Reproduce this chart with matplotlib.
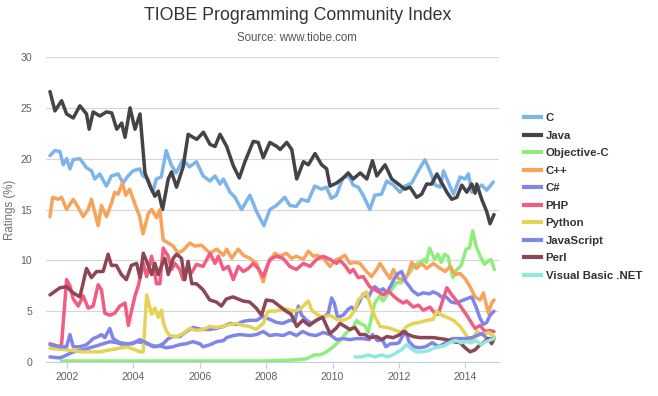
import matplotlib
matplotlib.use("Agg")
import matplotlib.pyplot as plt
from matplotlib.lines import Line2D
from matplotlib.font_manager import FontProperties

# --- data (decimal year, rating %) ---
c_years = [2001.49, 2001.64, 2001.79, 2001.89, 2001.99, 2002.09, 2002.19, 2002.39, 2002.59, 2002.74,
           2002.84, 2002.99, 2003.19, 2003.34, 2003.54, 2003.69, 2003.84, 2003.99, 2004.19, 2004.29,
           2004.44, 2004.59, 2004.69, 2004.84, 2004.99, 2005.14, 2005.29, 2005.49, 2005.69, 2005.90,
           2006.10, 2006.31, 2006.46, 2006.61, 2006.71, 2006.91, 2007.06, 2007.26, 2007.51, 2007.71,
           2007.93, 2008.11, 2008.31, 2008.56, 2008.71, 2008.91, 2009.06, 2009.26, 2009.46, 2009.66,
           2009.81, 2009.96, 2010.11, 2010.31, 2010.49, 2010.62, 2010.77, 2010.92, 2011.12, 2011.27,
           2011.47, 2011.63, 2011.83, 2012.03, 2012.18, 2012.38, 2012.58, 2012.78, 2012.93, 2013.09,
           2013.24, 2013.34, 2013.44, 2013.64, 2013.84, 2013.99, 2014.09, 2014.19, 2014.34, 2014.49,
           2014.64, 2014.84]
c_vals = [20.3, 20.8, 20.7, 19.4, 20.0, 19.0, 19.9, 20.0, 19.1, 18.8,
          18.0, 18.5, 17.3, 18.3, 18.5, 17.6, 18.3, 18.8, 19.0, 18.3,
          18.0, 16.7, 18.0, 18.2, 20.8, 19.4, 18.6, 19.9, 19.2, 19.7,
          18.3, 17.8, 18.3, 17.5, 18.0, 16.7, 16.2, 15.0, 16.4, 14.8,
          13.4, 15.0, 15.4, 16.2, 15.4, 15.3, 16.0, 15.8, 17.3, 17.0,
          17.2, 16.1, 16.4, 18.1, 18.3, 17.4, 17.2, 16.4, 15.0, 16.4,
          16.5, 17.8, 17.4, 16.7, 17.3, 17.6, 18.8, 19.9, 18.8, 17.4,
          17.2, 18.8, 18.0, 16.5, 18.2, 18.0, 18.5, 16.7, 17.0, 17.4,
          16.9, 17.7]

java_years = [2001.49, 2001.64, 2001.84, 2001.99, 2002.19, 2002.39, 2002.59, 2002.67, 2002.79, 2002.99,
              2003.19, 2003.35, 2003.50, 2003.65, 2003.75, 2003.90, 2004.05, 2004.20, 2004.35, 2004.50,
              2004.65, 2004.75, 2004.88, 2005.05, 2005.15, 2005.30, 2005.50, 2005.65, 2005.80, 2005.91,
              2006.11, 2006.31, 2006.46, 2006.61, 2006.81, 2007.01, 2007.19, 2007.36, 2007.61, 2007.76,
              2007.91, 2008.11, 2008.32, 2008.42, 2008.62, 2008.77, 2008.92, 2009.12, 2009.27, 2009.47,
              2009.67, 2009.82, 2009.92, 2010.12, 2010.32, 2010.47, 2010.62, 2010.83, 2011.03, 2011.20,
              2011.33, 2011.58, 2011.78, 2011.98, 2012.18, 2012.33, 2012.53, 2012.68, 2012.83, 2012.98,
              2013.14, 2013.29, 2013.44, 2013.59, 2013.74, 2013.89, 2014.04, 2014.19, 2014.29, 2014.34,
              2014.49, 2014.64, 2014.74, 2014.86]
java_vals = [26.6, 24.7, 25.7, 24.4, 24.0, 25.2, 24.4, 22.9, 24.6, 24.2,
             24.6, 24.5, 22.9, 23.5, 22.1, 25.0, 22.9, 24.4, 18.6, 17.3,
             16.3, 16.8, 15.0, 18.0, 18.7, 17.2, 19.2, 22.4, 22.1, 21.9,
             22.6, 21.4, 21.2, 22.4, 21.2, 19.3, 18.1, 19.7, 21.7, 21.6,
             20.1, 21.6, 21.2, 20.9, 21.6, 20.9, 18.0, 19.7, 19.4, 20.5,
             19.4, 19.0, 17.3, 17.6, 18.1, 18.6, 18.0, 18.6, 18.0, 19.8,
             18.3, 19.4, 18.0, 17.5, 17.0, 17.2, 16.2, 16.5, 17.5, 17.5,
             18.5, 17.6, 16.7, 16.0, 16.2, 17.4, 16.7, 17.5, 16.6, 17.5,
             16.0, 14.8, 13.6, 14.5]

objc_years = [2001.84, 2003.0, 2004.0, 2005.0, 2006.0, 2007.0, 2008.0, 2008.8, 2009.2, 2009.45,
              2009.62, 2009.82, 2010.02, 2010.22, 2010.42, 2010.62, 2010.72, 2010.82, 2010.97, 2011.07,
              2011.17, 2011.27, 2011.42, 2011.52, 2011.62, 2011.77, 2011.92, 2012.07, 2012.17, 2012.32,
              2012.47, 2012.62, 2012.77, 2012.82, 2012.92, 2013.07, 2013.17, 2013.27, 2013.37, 2013.47,
              2013.62, 2013.72, 2013.87, 2014.02, 2014.12, 2014.22, 2014.32, 2014.42, 2014.57, 2014.67,
              2014.77, 2014.87]
objc_vals = [0.1, 0.1, 0.1, 0.1, 0.1, 0.1, 0.1, 0.2, 0.3, 0.7,
             0.7, 1.0, 1.5, 2.1, 2.9, 3.4, 4.1, 3.8, 3.6, 2.9,
             4.4, 5.8, 6.5, 6.0, 6.5, 7.1, 7.8, 7.8, 8.3, 8.8,
             9.5, 9.8, 10.1, 9.8, 11.2, 10.1, 10.6, 9.8, 10.6, 10.4,
             8.3, 9.0, 9.5, 11.1, 11.2, 12.9, 11.4, 10.6, 9.6, 9.9,
             10.1, 9.1]

cpp_years = [2001.49, 2001.57, 2001.74, 2001.84, 2001.99, 2002.19, 2002.34, 2002.49, 2002.64, 2002.74,
             2002.84, 2002.94, 2003.04, 2003.19, 2003.34, 2003.44, 2003.54, 2003.67, 2003.77, 2003.89,
             2004.04, 2004.19, 2004.29, 2004.45, 2004.55, 2004.70, 2004.80, 2004.90, 2005.05, 2005.20,
             2005.35, 2005.50, 2005.70, 2005.85, 2006.05, 2006.31, 2006.51, 2006.71, 2006.81, 2006.96,
             2007.16, 2007.31, 2007.51, 2007.71, 2007.91, 2008.06, 2008.26, 2008.41, 2008.61, 2008.76,
             2008.91, 2009.12, 2009.27, 2009.42, 2009.52, 2009.72, 2009.92, 2010.12, 2010.22, 2010.37,
             2010.52, 2010.67, 2010.82, 2011.02, 2011.17, 2011.33, 2011.43, 2011.58, 2011.73, 2011.83,
             2011.98, 2012.18, 2012.28, 2012.38, 2012.53, 2012.68, 2012.83, 2013.03, 2013.24, 2013.39,
             2013.54, 2013.69, 2013.84, 2013.99, 2014.14, 2014.29, 2014.44, 2014.54, 2014.69, 2014.79,
             2014.86]
cpp_vals = [14.3, 16.2, 16.0, 16.2, 15.0, 16.0, 15.2, 14.3, 15.0, 16.0,
            14.7, 13.4, 15.4, 14.3, 15.6, 16.7, 16.5, 17.6, 16.4, 17.0,
            15.6, 14.3, 12.6, 14.6, 15.0, 14.2, 15.0, 12.0, 11.7, 11.4,
            10.7, 11.0, 11.7, 11.4, 11.5, 10.7, 11.1, 10.5, 11.1, 10.2,
            11.1, 10.5, 10.2, 9.7, 7.9, 9.7, 10.7, 10.4, 10.7, 10.2,
            10.4, 10.1, 10.9, 10.4, 10.5, 10.2, 9.4, 10.1, 10.2, 10.5,
            9.7, 9.8, 9.7, 8.9, 8.4, 9.1, 9.7, 8.9, 8.2, 9.1,
            8.2, 8.1, 8.7, 9.8, 9.2, 9.7, 9.2, 9.7, 9.2, 8.9,
            9.4, 8.6, 8.7, 8.2, 7.4, 6.4, 6.1, 6.8, 4.8, 5.8,
            6.1]

cs_years = [2001.49, 2001.79, 2001.94, 2002.09, 2002.29, 2002.49, 2002.69, 2002.90, 2003.10, 2003.30,
            2003.50, 2003.70, 2003.90, 2004.10, 2004.30, 2004.50, 2004.70, 2004.90, 2005.05, 2005.20,
            2005.40, 2005.60, 2005.80, 2006.05, 2006.31, 2006.50, 2006.71, 2006.91, 2007.10, 2007.31,
            2007.50, 2007.71, 2007.91, 2008.10, 2008.31, 2008.50, 2008.71, 2008.86, 2008.97, 2009.07,
            2009.22, 2009.37, 2009.52, 2009.62, 2009.77, 2009.87, 2009.97, 2010.05, 2010.15, 2010.32,
            2010.47, 2010.57, 2010.67, 2010.82, 2010.92, 2011.07, 2011.17, 2011.27, 2011.42, 2011.52,
            2011.62, 2011.77, 2011.87, 2011.97, 2012.08, 2012.18, 2012.32, 2012.41, 2012.57, 2012.73,
            2012.92, 2013.02, 2013.17, 2013.27, 2013.42, 2013.57, 2013.72, 2013.87, 2014.02, 2014.19,
            2014.32, 2014.44, 2014.54, 2014.64, 2014.74, 2014.86]
cs_vals = [0.5, 0.4, 0.6, 0.85, 1.1, 1.2, 1.4, 1.6, 1.8, 2.0,
           1.9, 1.7, 1.8, 2.0, 1.9, 1.7, 1.5, 1.8, 2.3, 2.5,
           2.5, 3.0, 3.4, 3.2, 3.2, 3.3, 3.5, 3.8, 3.7, 4.0,
           4.1, 4.1, 4.5, 4.2, 3.9, 3.8, 4.1, 4.0, 5.5, 4.6,
           4.1, 3.8, 4.1, 4.3, 4.5, 4.8, 6.3, 5.8, 4.4, 4.6,
           5.2, 5.4, 5.1, 6.0, 6.7, 6.3, 7.0, 7.4, 7.0, 7.2,
           6.8, 7.6, 8.3, 8.7, 8.9, 8.0, 7.4, 7.0, 6.6, 6.8,
           6.7, 6.9, 6.7, 6.4, 6.4, 5.9, 5.8, 6.0, 6.2, 6.4,
           5.4, 4.3, 3.7, 3.9, 4.6, 5.0]

php_years = [2001.49, 2001.79, 2001.84, 2001.99, 2002.09, 2002.19, 2002.34, 2002.49, 2002.64, 2002.79,
             2002.94, 2003.04, 2003.14, 2003.29, 2003.44, 2003.59, 2003.75, 2003.85, 2003.95, 2004.05,
             2004.15, 2004.30, 2004.40, 2004.55, 2004.70, 2004.80, 2004.90, 2005.05, 2005.15, 2005.25,
             2005.40, 2005.50, 2005.60, 2005.76, 2005.90, 2006.10, 2006.31, 2006.46, 2006.56, 2006.71,
             2006.86, 2007.01, 2007.16, 2007.31, 2007.46, 2007.61, 2007.76, 2007.91, 2008.11, 2008.31,
             2008.51, 2008.71, 2008.91, 2009.12, 2009.32, 2009.52, 2009.72, 2009.92, 2010.12, 2010.22,
             2010.37, 2010.52, 2010.62, 2010.77, 2010.92, 2011.12, 2011.33, 2011.53, 2011.68, 2011.83,
             2011.98, 2012.13, 2012.23, 2012.43, 2012.58, 2012.73, 2012.93, 2013.08, 2013.18, 2013.44,
             2013.59, 2013.74, 2013.89, 2014.04, 2014.19, 2014.29, 2014.44, 2014.59, 2014.74, 2014.86]
php_vals = [1.8, 1.5, 1.8, 8.1, 7.5, 6.2, 5.5, 6.5, 5.3, 5.5,
            7.6, 7.1, 4.8, 4.6, 4.8, 5.5, 5.8, 3.6, 5.1, 6.5,
            7.5, 9.7, 8.4, 10.4, 7.7, 7.7, 11.2, 10.4, 9.1, 9.7,
            9.1, 8.1, 9.1, 8.8, 9.6, 9.4, 10.7, 9.7, 10.4, 9.1,
            9.4, 8.1, 9.4, 8.9, 9.2, 9.7, 9.2, 8.4, 10.1, 10.4,
            10.2, 9.4, 9.1, 9.7, 9.4, 10.1, 10.4, 10.1, 9.7, 10.0,
            9.5, 8.8, 9.1, 8.3, 8.4, 7.4, 7.0, 6.6, 7.0, 6.5,
            6.1, 5.8, 6.0, 5.4, 5.6, 5.1, 5.4, 4.8, 4.7, 7.3,
            6.6, 6.0, 5.3, 4.6, 3.8, 3.3, 3.6, 3.0, 3.1, 3.0]

py_years = [2001.49, 2001.99, 2002.49, 2002.99, 2003.49, 2003.79, 2004.05, 2004.20, 2004.30, 2004.40,
            2004.55, 2004.65, 2004.75, 2004.85, 2004.90, 2005.00, 2005.10, 2005.30, 2005.50, 2005.70,
            2005.90, 2006.10, 2006.30, 2006.50, 2006.70, 2006.90, 2007.10, 2007.30, 2007.50, 2007.70,
            2007.91, 2008.06, 2008.26, 2008.41, 2008.61, 2008.81, 2009.02, 2009.17, 2009.27, 2009.37,
            2009.52, 2009.72, 2009.92, 2010.12, 2010.32, 2010.52, 2010.67, 2010.77, 2010.92, 2011.02,
            2011.12, 2011.27, 2011.43, 2011.63, 2011.83, 2012.08, 2012.23, 2012.43, 2012.63, 2012.83,
            2013.03, 2013.13, 2013.29, 2013.44, 2013.64, 2013.84, 2014.05, 2014.20, 2014.35, 2014.50,
            2014.70, 2014.86]
py_vals = [1.35, 1.2, 1.0, 1.0, 1.3, 1.5, 1.2, 1.0, 1.0, 6.6,
           4.7, 5.3, 4.4, 5.1, 3.9, 3.0, 2.6, 2.5, 2.8, 3.3,
           3.1, 3.2, 3.5, 3.4, 3.5, 3.7, 3.8, 3.6, 3.5, 3.2,
           3.8, 5.0, 5.0, 5.1, 5.2, 5.0, 5.2, 5.7, 6.0, 5.1,
           4.7, 4.4, 4.6, 4.2, 4.1, 4.4, 5.1, 6.1, 6.6, 6.9,
           5.8, 4.5, 3.5, 3.4, 3.2, 2.9, 3.5, 3.8, 3.9, 4.1,
           4.2, 5.0, 4.6, 4.4, 4.1, 3.5, 2.5, 2.1, 3.0, 2.7,
           2.9, 2.5]

js_years = [2001.49, 2001.79, 2001.99, 2002.09, 2002.19, 2002.39, 2002.59, 2002.79, 2002.94, 2003.04,
            2003.14, 2003.29, 2003.39, 2003.59, 2003.79, 2003.99, 2004.19, 2004.39, 2004.59, 2004.79,
            2004.99, 2005.19, 2005.39, 2005.59, 2005.79, 2006.00, 2006.10, 2006.31, 2006.51, 2006.71,
            2006.81, 2007.01, 2007.21, 2007.51, 2007.71, 2007.91, 2008.10, 2008.31, 2008.51, 2008.71,
            2008.91, 2009.10, 2009.30, 2009.50, 2009.72, 2009.92, 2010.12, 2010.32, 2010.52, 2010.70,
            2010.90, 2011.10, 2011.20, 2011.35, 2011.50, 2011.60, 2011.75, 2011.90, 2012.00, 2012.08,
            2012.20, 2012.30, 2012.45, 2012.60, 2012.80, 2013.00, 2013.20, 2013.40, 2013.60, 2013.80,
            2014.00, 2014.20, 2014.35, 2014.50, 2014.65, 2014.86]
js_vals = [1.7, 1.5, 1.5, 2.7, 1.5, 1.5, 1.7, 2.3, 2.5, 2.7,
           2.4, 3.3, 2.3, 1.9, 1.8, 1.8, 2.2, 1.9, 1.5, 1.6,
           1.4, 1.5, 1.7, 1.8, 2.0, 1.8, 1.5, 1.7, 2.0, 2.1,
           2.4, 2.6, 2.7, 2.6, 2.7, 3.0, 2.6, 2.7, 2.6, 2.9,
           2.6, 3.0, 2.7, 2.6, 2.9, 2.7, 2.2, 2.3, 2.2, 2.3,
           2.3, 2.2, 2.7, 2.1, 2.2, 1.5, 1.8, 1.8, 1.9, 2.4,
           3.0, 2.0, 1.5, 1.4, 1.5, 1.9, 1.5, 1.9, 2.3, 2.3,
           2.3, 2.4, 2.6, 2.8, 2.3, 2.3]

perl_years = [2001.49, 2001.79, 2001.99, 2002.19, 2002.39, 2002.59, 2002.74, 2002.89, 2003.09, 2003.24,
              2003.34, 2003.49, 2003.64, 2003.79, 2003.94, 2004.10, 2004.20, 2004.30, 2004.45, 2004.55,
              2004.65, 2004.75, 2004.85, 2004.95, 2005.05, 2005.20, 2005.30, 2005.45, 2005.55, 2005.65,
              2005.76, 2005.90, 2006.10, 2006.30, 2006.50, 2006.65, 2006.80, 2007.00, 2007.15, 2007.30,
              2007.50, 2007.70, 2007.86, 2008.00, 2008.20, 2008.40, 2008.60, 2008.75, 2008.92, 2009.10,
              2009.30, 2009.50, 2009.70, 2009.92, 2010.10, 2010.22, 2010.37, 2010.52, 2010.67, 2010.82,
              2010.97, 2011.12, 2011.33, 2011.48, 2011.63, 2011.83, 2012.03, 2012.13, 2012.28, 2012.43,
              2012.63, 2012.83, 2013.03, 2013.24, 2013.44, 2013.64, 2013.84, 2013.99, 2014.14, 2014.29,
              2014.44, 2014.54, 2014.69, 2014.79, 2014.86]
perl_vals = [6.6, 7.3, 7.4, 6.8, 6.4, 9.2, 8.3, 8.9, 8.9, 10.6,
             9.5, 9.5, 8.6, 8.1, 9.5, 9.7, 8.3, 10.7, 9.5, 8.6,
             9.7, 8.6, 9.5, 10.2, 8.6, 10.2, 10.6, 10.2, 8.1, 9.9,
             7.7, 7.7, 7.1, 6.1, 5.9, 5.5, 6.2, 6.4, 6.2, 6.0,
             5.9, 5.3, 4.6, 6.1, 6.0, 5.5, 5.0, 4.7, 3.5, 4.1,
             3.6, 4.1, 4.4, 2.8, 3.3, 3.8, 3.5, 3.2, 3.4, 2.7,
             2.7, 2.4, 2.5, 2.2, 2.5, 2.4, 2.7, 3.0, 2.7, 2.5,
             2.4, 2.4, 2.4, 2.3, 2.2, 2.0, 1.9, 1.4, 1.0, 1.2,
             1.7, 1.9, 2.3, 1.8, 2.3]

vb_years = [2010.67, 2010.87, 2011.07, 2011.27, 2011.47, 2011.67, 2011.87, 2012.07, 2012.22, 2012.37,
            2012.52, 2012.67, 2012.87, 2013.07, 2013.22, 2013.37, 2013.57, 2013.72, 2013.87, 2014.02,
            2014.17, 2014.32, 2014.47, 2014.62, 2014.77, 2014.86]
vb_vals = [0.5, 0.5, 0.7, 0.5, 0.7, 0.5, 0.8, 1.2, 1.7, 1.3,
           1.0, 1.0, 1.1, 1.4, 1.5, 1.6, 2.0, 2.1, 1.9, 2.0,
           1.9, 2.1, 1.7, 2.0, 2.2, 2.3]

series = [
    ("C", c_years, c_vals, "#7cb5ec"),
    ("Java", java_years, java_vals, "#434348"),
    ("Objective-C", objc_years, objc_vals, "#90ed7d"),
    ("C++", cpp_years, cpp_vals, "#f7a35c"),
    ("C#", cs_years, cs_vals, "#8085e9"),
    ("PHP", php_years, php_vals, "#f15c80"),
    ("Python", py_years, py_vals, "#e4d354"),
    ("JavaScript", js_years, js_vals, "#8085e8"),
    ("Perl", perl_years, perl_vals, "#8d4653"),
    ("Visual Basic .NET", vb_years, vb_vals, "#91e8e1"),
]

year_ticks = [2002, 2004, 2006, 2008, 2010, 2012, 2014]
rating_ticks = [0, 5, 10, 15, 20, 25, 30]

plt.rcParams['font.family'] = ['Liberation Sans', 'DejaVu Sans']

fig = plt.figure(figsize=(6.58, 3.96), dpi=100)
ax = fig.add_axes([46 / 658, 1 - 362 / 396, (499 - 46) / 658, (362 - 57) / 396])

for name, xs, ys, col in series:
    ax.plot(xs, ys, color=col, lw=2.5, solid_joinstyle='round', solid_capstyle='round', label=name)

ax.set_xlim(2001.37, 2015.01)
ax.set_ylim(0, 30)
ax.set_xticks(year_ticks)
ax.set_yticks(rating_ticks)
ax.grid(axis='y', color='#d6d6d6', lw=0.8)
ax.set_axisbelow(True)
for side in ['top', 'right', 'left']:
    ax.spines[side].set_visible(False)
ax.spines['bottom'].set_color('#C0D0E0')
ax.spines['bottom'].set_linewidth(0.8)
ax.tick_params(axis='x', colors='#C0D0E0', length=4, width=0.8, pad=3, labelsize=7.6, labelcolor='#606060')
ax.tick_params(axis='y', length=0, pad=10, labelsize=7.6, labelcolor='#606060')
ax.set_ylabel("Ratings (%)", color='#707070', fontsize=8.3)
ax.yaxis.set_label_coords(-30 / 453, 0.5)

fig.text(0.452, 0.962, "TIOBE Programming Community Index", ha='center', va='center',
         fontsize=12.8, color='#333333')
fig.text(0.452, 0.905, "Source: www.tiobe.com", ha='center', va='center',
         fontsize=8.3, color='#555555')

handles = [Line2D([], [], color=col, lw=3) for _, _, _, col in series]
labels = [name for name, _, _, _ in series]
leg = ax.legend(handles, labels, loc='upper left', bbox_to_anchor=(524 / 658, 1 - 113 / 396),
                bbox_transform=fig.transFigure, frameon=False,
                prop=FontProperties(family='Liberation Sans', weight='bold', size=8.2),
                handlelength=1.45, handletextpad=0.45, labelspacing=0.66,
                borderpad=0, borderaxespad=0)
for t in leg.get_texts():
    t.set_color('#333333')

fig.savefig("out.png", dpi=100)
